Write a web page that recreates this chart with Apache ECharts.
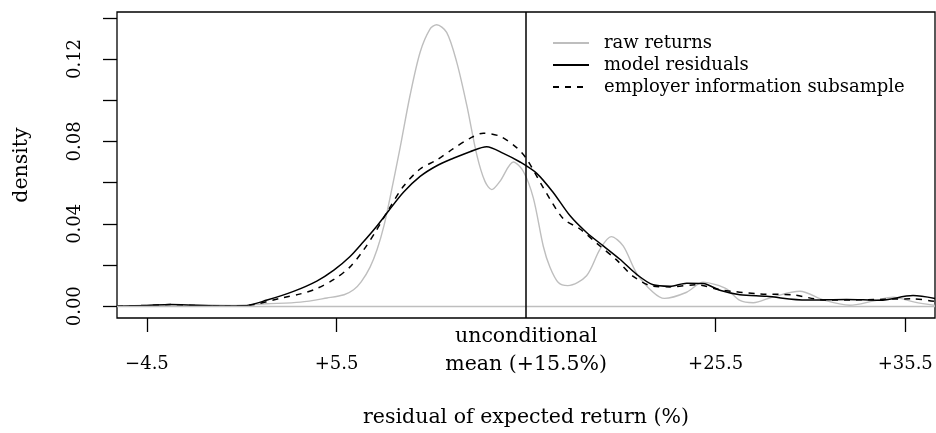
<!DOCTYPE html>
<html>
<head>
<meta charset="utf-8">
<script src="https://cdn.jsdelivr.net/npm/echarts@6/dist/echarts.min.js"></script>
<style>
  html, body { margin: 0; padding: 0; background: #fff; }
  #main { width: 936px; height: 433px; }
</style>
</head>
<body>
<div id="main"></div>
<script>
// density curves (x = residual %, y = density)
var rawX = [-6.08, -4.5, -2.5, 0.0, 1.8, 3.6, 5.0, 5.9, 6.4, 6.8, 7.27, 7.64, 8.0, 8.33, 8.85, 9.38, 9.91, 10.43, 10.78, 11.31, 11.84, 12.37, 12.9, 13.33, 13.69, 14.12, 14.83, 15.35, 15.88, 16.41, 16.76, 17.2, 17.7, 18.69, 19.4, 19.99, 20.62, 21.33, 22.2, 22.8, 23.97, 24.84, 25.5, 26.07, 26.78, 27.48, 28.5, 29.94, 31.2, 32.58, 33.8, 34.86, 36.0, 37.07];
var rawY = [0.0000, 0.0005, 0.0008, 0.0004, 0.0012, 0.0020, 0.0040, 0.0056, 0.0080, 0.0118, 0.0190, 0.0275, 0.0390, 0.0530, 0.0767, 0.1024, 0.1233, 0.1345, 0.1366, 0.1329, 0.1185, 0.0976, 0.0735, 0.0606, 0.0566, 0.0606, 0.0700, 0.0655, 0.0526, 0.0290, 0.0189, 0.0115, 0.0100, 0.0148, 0.0277, 0.0338, 0.0293, 0.0160, 0.0068, 0.0038, 0.0068, 0.0117, 0.0105, 0.0084, 0.0028, 0.0017, 0.0045, 0.0073, 0.0030, 0.0005, 0.0025, 0.0044, 0.0020, 0.0004];

var modelX = [-6.08, -4.5, -3.26, -2.0, -0.5, 0.6, 1.84, 3.23, 4.46, 5.36, 6.2, 6.92, 7.6, 8.24, 9.03, 9.91, 10.79, 11.66, 12.54, 13.42, 14.3, 15.18, 16.06, 16.93, 17.81, 18.69, 19.57, 20.45, 21.33, 22.2, 23.08, 23.97, 24.84, 25.72, 26.78, 28.18, 30.29, 32.4, 34.16, 35.91, 37.07];
var modelY = [0.0000, 0.0004, 0.0009, 0.0005, 0.0001, 0.0002, 0.0030, 0.0072, 0.0122, 0.0175, 0.0240, 0.0313, 0.0386, 0.0462, 0.0553, 0.0630, 0.0682, 0.0718, 0.0750, 0.0774, 0.0742, 0.0700, 0.0645, 0.0552, 0.0440, 0.0358, 0.0293, 0.0228, 0.0155, 0.0104, 0.0097, 0.0112, 0.0110, 0.0078, 0.0056, 0.0048, 0.0030, 0.0033, 0.0029, 0.0052, 0.0038];

var empX = [-6.08, -4.5, -3.26, -2.0, -0.5, 1.0, 2.7, 3.6, 4.46, 5.36, 6.2, 6.92, 7.6, 8.24, 9.03, 9.91, 10.79, 11.66, 12.54, 13.24, 14.12, 15.0, 15.53, 16.41, 17.46, 18.34, 19.3, 20.27, 21.15, 22.2, 23.08, 24.5, 25.72, 27.8, 29.57, 31.3, 33.0, 35.9, 37.07];
var empY = [0.0000, 0.0004, 0.0008, 0.0004, 0.0000, 0.0006, 0.0042, 0.0060, 0.0086, 0.0130, 0.0190, 0.0272, 0.0368, 0.0468, 0.0582, 0.0666, 0.0710, 0.0765, 0.0815, 0.0840, 0.0825, 0.0770, 0.0715, 0.0575, 0.0425, 0.0375, 0.0300, 0.0225, 0.0145, 0.0097, 0.0094, 0.0104, 0.0080, 0.0060, 0.0055, 0.0030, 0.0031, 0.0036, 0.0023];

// axis ticks and labels
var xTickMarks = [-4.5, 5.5, 25.5, 35.5];
var xLabelValues = [-4.5, 5.5, 15.5, 25.5, 35.5];
var xLabelTexts = ['\u22124.5', '+5.5', '{u|unconditional}\n{u|mean (+15.5%)}', '+25.5', '+35.5'];
var yTickMarks = [0, 0.02, 0.04, 0.06, 0.08, 0.10, 0.12, 0.14];
var yLabelValues = [0, 0.04, 0.08, 0.12];
var meanLine = 15.5;

function pairs(xs, ys) {
    return xs.map(function (x, i) { return [x, ys[i]]; });
}

var FONT = 'DejaVu Serif';
var chart = echarts.init(document.getElementById('main'));
chart.setOption({
    animation: false,
    textStyle: { fontFamily: FONT, color: '#000' },
    grid: {
        left: 117, right: 1, top: 12, bottom: 114,
        show: true, borderColor: '#000', borderWidth: 1.3
    },
    legend: {
        orient: 'vertical',
        left: 552, top: 32, padding: 0,
        itemWidth: 36, itemHeight: 10, itemGap: 0,
        itemStyle: { opacity: 0 },
        data: ['raw returns', 'model residuals', 'employer information subsample'],
        textStyle: { fontFamily: FONT, fontSize: 18, color: '#000', lineHeight: 22, padding: [0, 0, 0, 10] }
    },
    xAxis: {
        type: 'value',
        min: -6.08, max: 37.07,
        name: 'residual of expected return (%)',
        nameLocation: 'middle',
        nameGap: 89,
        nameTextStyle: { fontFamily: FONT, fontSize: 20.5, color: '#000' },
        axisLine: { show: false, onZero: false },
        splitLine: { show: false },
        axisTick: {
            show: true, length: 14, customValues: xTickMarks,
            lineStyle: { color: '#000', width: 1.3 }
        },
        axisLabel: {
            customValues: xLabelValues,
            fontFamily: FONT, fontSize: 18, color: '#000',
            lineHeight: 30, verticalAlign: 'bottom', margin: 61,
            rich: { u: { fontFamily: FONT, fontSize: 20.5, lineHeight: 28, color: '#000' } },
            formatter: function (v) {
                var i = xLabelValues.indexOf(Math.round(v * 10) / 10);
                return i >= 0 ? xLabelTexts[i] : '';
            }
        }
    },
    yAxis: {
        type: 'value',
        min: -0.0057, max: 0.1428,
        name: 'density',
        nameLocation: 'middle',
        nameGap: 85,
        nameTextStyle: { fontFamily: FONT, fontSize: 20.5, color: '#000' },
        axisLine: { show: false, onZero: false },
        splitLine: { show: false },
        axisTick: {
            show: true, length: 14, customValues: yTickMarks,
            lineStyle: { color: '#000', width: 1.3 }
        },
        axisLabel: {
            customValues: yLabelValues,
            rotate: 90, margin: 33,
            fontFamily: FONT, fontSize: 18, color: '#000',
            formatter: function (v) { return v.toFixed(2); }
        }
    },
    series: [
        {
            name: 'raw returns', type: 'line', data: pairs(rawX, rawY),
            symbol: 'none', smooth: 0.3,
            lineStyle: { color: '#bebebe', width: 1.4 },
            itemStyle: { color: '#bebebe' },
            markLine: {
                silent: true, symbol: 'none', label: { show: false },
                lineStyle: { color: '#bebebe', width: 1.3, type: 'solid' },
                data: [{ yAxis: 0 }]
            }
        },
        {
            name: 'employer information subsample', type: 'line', data: pairs(empX, empY),
            symbol: 'none', smooth: 0.3,
            lineStyle: { color: '#000', width: 1.5, type: [6, 6] },
            itemStyle: { color: '#000' }
        },
        {
            name: 'model residuals', type: 'line', data: pairs(modelX, modelY),
            symbol: 'none', smooth: 0.3,
            lineStyle: { color: '#000', width: 1.5 },
            itemStyle: { color: '#000' },
            markLine: {
                silent: true, symbol: 'none', label: { show: false },
                lineStyle: { color: '#000', width: 1.5, type: 'solid' },
                data: [{ xAxis: meanLine }]
            }
        }
    ]
});
</script>
</body>
</html>
